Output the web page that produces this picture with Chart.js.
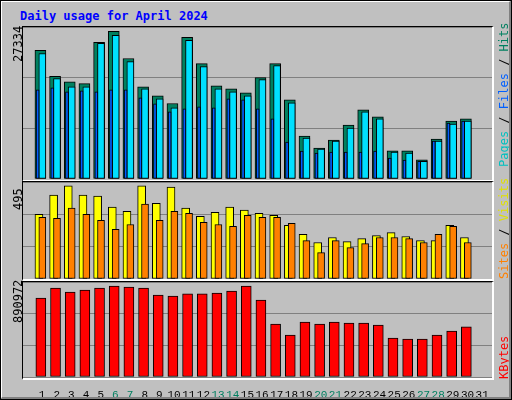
<!DOCTYPE html>
<html><head><meta charset="utf-8">
<script src="https://cdn.jsdelivr.net/npm/chart.js@4"></script>
<style>
html,body{margin:0;padding:0;background:#c0c0c0;}
#wrap{position:relative;width:512px;height:400px;overflow:hidden;background:#c0c0c0;box-sizing:border-box;border-top:2px solid #fff;border-left:2px solid #fff;border-right:3px solid #808080;border-bottom:3px solid #808080;outline:1px solid #000;outline-offset:-1px;}
.cv{position:absolute;}
.lbl{position:absolute;font-family:"DejaVu Sans Mono",monospace;font-size:12px;white-space:nowrap;transform-origin:0 0;transform:rotate(-90deg);}
#title{position:absolute;left:18px;top:7px;font-family:"DejaVu Sans Mono",monospace;font-weight:bold;font-size:12px;color:#0000ff;}
.frame{position:absolute;box-sizing:border-box;border-top:1px solid #000;border-left:1px solid #000;border-right:2px solid #fff;border-bottom:2px solid #fff;pointer-events:none;}
</style></head>
<body><div id="wrap">
<div id="title">Daily usage for April 2024</div>
<div class="cv" style="left:21px;top:25px;width:470px;height:152px"><canvas id="c1"></canvas></div>
<div class="cv" style="left:21px;top:180px;width:470px;height:97px"><canvas id="c2"></canvas></div>
<div class="cv" style="left:21px;top:280px;width:470px;height:115px"><canvas id="c3"></canvas></div>
<div class="frame" style="left:20px;top:24px;width:472px;height:156px"></div>
<div class="frame" style="left:20px;top:179px;width:472px;height:100px"></div>
<div class="frame" style="left:20px;top:279px;width:472px;height:99px"></div>
<div class="lbl" style="left:9px;top:60px;color:#000">27334</div>
<div class="lbl" style="left:9px;top:208px;color:#000">495</div>
<div class="lbl" style="left:9px;top:321px;color:#000">890972</div>
<div class="lbl" style="left:495px;top:165px"><span style="color:#00c0c0">Pages</span><span style="color:#000"> / </span><span style="color:#0060ff">Files</span><span style="color:#000"> / </span><span style="color:#008060">Hits</span></div>
<div class="lbl" style="left:495px;top:277px"><span style="color:#ff8000">Sites</span><span style="color:#000"> / </span><span style="color:#e0e000">Visits</span></div>
<div class="lbl" style="left:495px;top:377px;color:#ff0000">KBytes</div>
</div>
<script>
const days=[1,2,3,4,5,6,7,8,9,10,11,12,13,14,15,16,17,18,19,20,21,22,23,24,25,26,27,28,29,30,31];
const weekend=[6,7,13,14,20,21,27,28];
const hits=[23800,19000,18000,17640,25280,27334,22300,17080,15400,13970,26210,21360,17260,16700,15960,18750,21360,14660,7950,5710,7200,10000,12790,11490,5220,5220,3540,7390,10740,11120];
const files=[23230,18570,17080,17080,25090,26580,21740,16700,14840,13170,25650,20800,16700,16150,15400,18380,20990,14100,7580,5530,7020,9440,12420,11120,4970,4780,3290,7020,10180,10740];
const pages=[16520,16890,16150,16330,16150,16520,16520,15030,13910,12420,12980,13350,13170,14840,14660,12980,11120,6830,5150,4780,4970,4970,4970,5150,3850,3480,3290,7020,10370,10740];
const sites=[344,446,495,446,441,382,360,495,403,489,377,333,355,382,366,350,339,285,237,194,221,199,215,231,247,226,204,204,285,221];
const visits=[328,323,377,344,312,264,290,398,312,360,350,301,290,280,339,328,328,296,204,140,204,167,188,221,221,215,194,237,280,194];
const kbytes=[773000,871000,832000,852000,871000,890972,881000,871000,803000,793000,813000,813000,822000,842000,890972,754000,519000,411000,538000,519000,538000,529000,529000,509000,382000,372000,372000,411000,450000,490000];

function pts(arr,off){return arr.map((v,i)=>({x:i+off,y:v}));}
function ds(arr,off,w,color){return {data:pts(arr,off),backgroundColor:color,borderColor:'#000',borderWidth:1,barThickness:w,grouped:false,borderSkipped:false};}
function opts(max,showX){
  return {responsive:true,maintainAspectRatio:false,animation:false,
    layout:{padding:0},
    plugins:{legend:{display:false},tooltip:{enabled:false}},
    scales:{
      x:{type:'linear',min:0,max:31,display:showX,grid:{display:false},border:{display:false},
        afterFit(s){s.height=showX?20:0;},
        afterBuildTicks(s){s.ticks=days.map(d=>({value:d-1+0.78}));},
        ticks:{autoSkip:false,maxRotation:0,padding:3,font:{family:'Liberation Mono',size:11},
          callback:(v,i)=>String(days[i]),
          color:(c)=>weekend.includes(days[c.index])?'#008060':'#000'}},
      y:{min:0,max:max,grid:{color:'#808080',drawTicks:false},border:{display:false},
        afterFit(s){s.width=0;},
        ticks:{display:false,stepSize:max/3}}
    }};
}
new Chart(document.getElementById('c1'),{type:'bar',data:{datasets:[
  ds(pages,0.48,3,'#0060ff'),ds(files,0.80,7,'#00e0ff'),ds(hits,0.67,11,'#008060')]},
  options:opts(28135,false)});
new Chart(document.getElementById('c2'),{type:'bar',data:{datasets:[
  ds(visits,0.80,7,'#ff8000'),ds(sites,0.57,8,'#ffff00')]},options:opts(516,false)});
new Chart(document.getElementById('c3'),{type:'bar',data:{datasets:[
  ds(kbytes,0.70,10,'#ff0000')]},options:opts(930000,true)});
</script>
</body></html>
